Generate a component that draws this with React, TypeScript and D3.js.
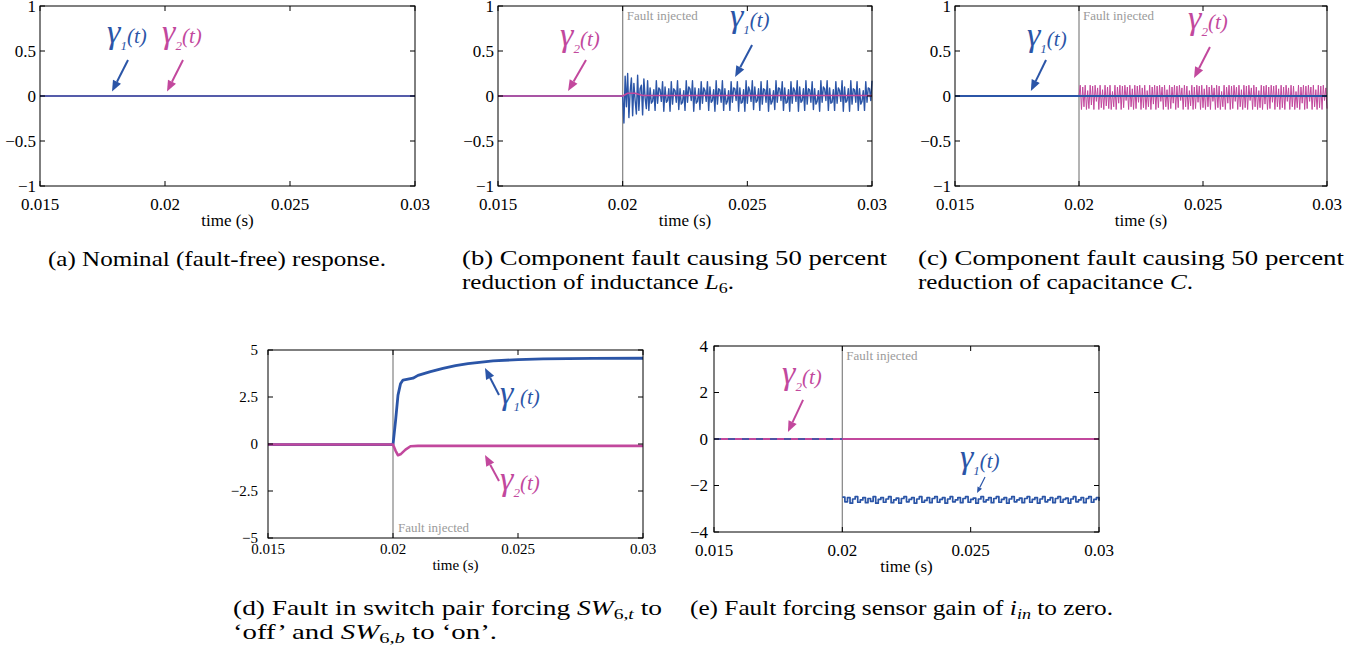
import React from "react";
import * as d3 from "d3";

const BLUE = "#2b55a7";
const MAGENTA = "#c2489d";
const FAULT_GRAY = "#8c8c8c";
const FONT = "Liberation Serif";

// time axis shared by all five plots
const tStart = 0.015;
const tFault = 0.02;
const tEnd = 0.03;
const bandStep = 0.00005; // sample step of the oscillating records (b), (c) after the fault
const rippleStep = 0.0001; // sample step of the record in (e)

const xTicks = [0.015, 0.02, 0.025, 0.03];
const xTickLabels = ["0.015", "0.02", "0.025", "0.03"];

const unitTicks = [-1, -0.5, 0, 0.5, 1];
const unitTickLabels = ["−1", "−0.5", "0", "0.5", "1"];
const dTicks = [-5, -2.5, 0, 2.5, 5];
const dTickLabels = ["−5", "−2.5", "0", "2.5", "5"];
const eTicks = [-4, -2, 0, 2, 4];
const eTickLabels = ["−4", "−2", "0", "2", "4"];

// (a) nominal
const aTimes = [tStart, tEnd];
const aGamma1 = [0, 0];
const aGamma2 = [0, 0];

// (b) inductance fault
const preTimes = [tStart, tFault];
const preZero = [0, 0];
const bGamma1Band = [
  0, -0.30, 0.22, -0.12, 0.25, -0.24, 0.05, 0.20, -0.22, 0.14,
  -0.05, -0.20, 0.23, -0.16, 0.08, 0.12, -0.21, 0.19, -0.02, -0.14,
  0.17, -0.16, 0.09, -0.08, -0.06, 0.07, -0.16, 0.17, -0.08, 0.09, 0.07, -0.06,
  0.16, -0.17, 0.10, -0.07, -0.05, 0.08, -0.17, 0.16, -0.09, 0.08, 0.06, -0.07,
  0.17, -0.15, 0.08, -0.09, -0.07, 0.06, -0.16, 0.17, -0.07, 0.10, 0.08, -0.05,
  0.17, -0.17, 0.09, -0.08, -0.06, 0.08, -0.15, 0.16, -0.08, 0.09, 0.06, -0.06,
  0.16, -0.16, 0.10, -0.07, -0.05, 0.07, -0.17, 0.17, -0.09, 0.08, 0.07, -0.07,
  0.17, -0.16, 0.08, -0.09, -0.06, 0.06, -0.16, 0.16, -0.07, 0.09, 0.08, -0.05,
  0.16, -0.17, 0.09, -0.08, -0.07, 0.07, -0.17, 0.17, -0.08, 0.10, 0.06, -0.06,
  0.17, -0.15, 0.10, -0.07, -0.05, 0.08, -0.16, 0.16, -0.09, 0.08, 0.07, -0.07,
  0.17, -0.17, 0.08, -0.09, -0.06, 0.06, -0.15, 0.17, -0.07, 0.09, 0.08, -0.05,
  0.16, -0.16, 0.09, -0.08, -0.07, 0.07, -0.17, 0.16, -0.08, 0.09, 0.06, -0.06,
  0.17, -0.17, 0.10, -0.07, -0.05, 0.08, -0.16, 0.17, -0.09, 0.08, 0.07, -0.07,
  0.16, -0.15, 0.08, -0.09, -0.06, 0.06, -0.17, 0.17, -0.07, 0.10, 0.08, -0.05,
  0.17, -0.16, 0.09, -0.08, -0.07, 0.07, -0.16, 0.16, -0.08, 0.09, 0.06, -0.06,
  0.17, -0.17, 0.10, -0.07, -0.05, 0.08, -0.17, 0.17, -0.09, 0.08, 0.07, -0.07,
  0.16, -0.16, 0.08, -0.09, -0.06, 0.06, -0.16, 0.16, -0.07, 0.09, 0.08, -0.05, 0.17,
];
const bGamma2Times = [tStart, 0.02, 0.0202, 0.0205, 0.0208, tEnd];
const bGamma2 = [0, 0, 0.03, 0.03, 0.005, 0.005];

// (c) capacitance fault
const cGamma1 = [0, 0];
const cGamma2Band = [
  0, 0.12, -0.15, 0.10, -0.12, 0.12, -0.15, 0.06, -0.14, 0.12,
  -0.10, 0.11, -0.15, 0.12, -0.06, 0.09, -0.15, 0.12, -0.13, 0.07,
  -0.15, 0.12, -0.11, 0.10, -0.14, 0.12, -0.15, 0.05, -0.12, 0.12,
  -0.15, 0.10, -0.08, 0.12, -0.15, 0.11, -0.13, 0.12, -0.05, 0.10,
  -0.15, 0.12, -0.12, 0.08, -0.15, 0.12, -0.14, 0.11, -0.07, 0.12,
  -0.15, 0.09, -0.13, 0.12, -0.15, 0.06, -0.12, 0.12, -0.15, 0.10,
  -0.09, 0.12, -0.15, 0.11, -0.13, 0.12, -0.06, 0.10, -0.15, 0.12,
  -0.12, 0.07, -0.15, 0.12, -0.14, 0.10, -0.08, 0.12, -0.15, 0.11,
  -0.13, 0.12, -0.05, 0.09, -0.15, 0.12, -0.12, 0.11, -0.15, 0.06,
  -0.11, 0.12, -0.15, 0.10, -0.14, 0.12, -0.07, 0.11, -0.15, 0.12,
  -0.13, 0.08, -0.15, 0.12, -0.12, 0.10, -0.15, 0.12, -0.06, 0.09,
  -0.15, 0.12, -0.13, 0.11, -0.15, 0.05, -0.12, 0.12, -0.15, 0.10,
  -0.08, 0.12, -0.15, 0.11, -0.14, 0.12, -0.06, 0.10, -0.15, 0.12,
  -0.12, 0.07, -0.15, 0.12, -0.13, 0.11, -0.15, 0.12, -0.05, 0.09,
  -0.15, 0.12, -0.12, 0.10, -0.15, 0.06, -0.13, 0.12, -0.15, 0.11,
  -0.09, 0.12, -0.15, 0.10, -0.14, 0.12, -0.07, 0.11, -0.15, 0.12,
  -0.12, 0.08, -0.15, 0.12, -0.13, 0.10, -0.15, 0.12, -0.06, 0.09,
  -0.15, 0.12, -0.12, 0.11, -0.15, 0.05, -0.13, 0.12, -0.15, 0.10,
  -0.08, 0.12, -0.15, 0.11, -0.14, 0.12, -0.06, 0.10, -0.15, 0.12,
  -0.12, 0.07, -0.15, 0.12, -0.13, 0.11, -0.15, 0.12, -0.05, 0.09, -0.14,
];

// (d) switch pair fault
const dGamma1Times = [0.015, 0.02, 0.0201, 0.0202, 0.0203, 0.0204, 0.0206, 0.0208, 0.021, 0.0215, 0.022, 0.0225, 0.023, 0.024, 0.025, 0.026, 0.028, 0.03];
const dGamma1 = [-0.03, -0.03, 1.2, 2.6, 3.2, 3.4, 3.45, 3.5, 3.65, 3.85, 4.02, 4.17, 4.28, 4.42, 4.49, 4.53, 4.55, 4.56];
const dGamma2Times = [0.015, 0.02, 0.0201, 0.0202, 0.0203, 0.0205, 0.0207, 0.021, 0.03];
const dGamma2 = [-0.03, -0.03, -0.35, -0.6, -0.55, -0.3, -0.12, -0.1, -0.1];

// (e) sensor gain fault
const eGamma2 = [0, 0];
const eGamma1Band = [
  -2.50, -2.70, -2.52, -2.76, -2.58, -2.48, -2.72, -2.62, -2.52, -2.74,
  -2.56, -2.68, -2.48, -2.76, -2.60, -2.52, -2.72, -2.58, -2.48, -2.74,
  -2.62, -2.54, -2.76, -2.56, -2.48, -2.70, -2.60, -2.52, -2.76, -2.58,
  -2.48, -2.72, -2.64, -2.52, -2.74, -2.56, -2.48, -2.72, -2.60, -2.52,
  -2.76, -2.58, -2.48, -2.70, -2.62, -2.52, -2.74, -2.56, -2.48, -2.72,
  -2.60, -2.54, -2.76, -2.58, -2.48, -2.70, -2.62, -2.52, -2.74, -2.56,
  -2.48, -2.72, -2.60, -2.52, -2.76, -2.58, -2.48, -2.70, -2.62, -2.54,
  -2.74, -2.56, -2.48, -2.72, -2.60, -2.52, -2.76, -2.58, -2.48, -2.70,
  -2.62, -2.52, -2.74, -2.56, -2.48, -2.72, -2.60, -2.54, -2.76, -2.58,
  -2.48, -2.70, -2.62, -2.52, -2.74, -2.56, -2.48, -2.72, -2.60, -2.52, -2.66,
];

type Pt = { t: number; v: number };
const pts = (ts: number[], vs: number[]): Pt[] => ts.map((t, i) => ({ t, v: vs[i] }));
const band = (vs: number[], step: number): Pt[] => vs.map((v, i) => ({ t: tFault + i * step, v }));

type Series = { data: Pt[]; color: string; width: number; dash?: string; step?: boolean };
type Label = { which: 1 | 2; t: number; v: number };
type Arrow = { color: string; from: [number, number]; to: [number, number]; small?: boolean };

type PanelProps = {
  left: number; top: number; right: number; bottom: number;
  yDomain: [number, number];
  yTicks: number[]; yTickLabels: string[];
  series: Series[];
  fault?: "top" | "bottom";
  labels: Label[];
  arrows: Arrow[];
  fs: number; xLabelDy: number; titleDy: number; yGap: number;
};

const GammaLabel = ({ x, y, which }: { x: number; y: number; which: 1 | 2 }) => (
  <text x={x} y={y} fill={which === 1 ? BLUE : MAGENTA} fontFamily={FONT} fontStyle="italic">
    <tspan fontSize={34}>γ</tspan>
    <tspan fontSize={13} dy={7}>{which}</tspan>
    <tspan fontSize={21} dy={-7}>(t)</tspan>
  </text>
);

const ArrowMark = ({ x1, y1, x2, y2, color, small }: any) => {
  const ang = Math.atan2(y2 - y1, x2 - x1);
  const len = small ? 6 : 11;
  const half = small ? 2.5 : 4.5;
  const bx = x2 - len * Math.cos(ang);
  const by = y2 - len * Math.sin(ang);
  const px = -Math.sin(ang) * half;
  const py = Math.cos(ang) * half;
  return (
    <g>
      <line x1={x1} y1={y1} x2={bx} y2={by} stroke={color} strokeWidth={small ? 1.2 : 2} />
      <path d={`M${x2},${y2}L${bx + px},${by + py}L${bx - px},${by - py}Z`} fill={color} />
    </g>
  );
};

const Panel = (p: PanelProps) => {
  const x = d3.scaleLinear().domain([tStart, tEnd]).range([p.left, p.right]);
  const y = d3.scaleLinear().domain(p.yDomain).range([p.bottom, p.top]);
  const tick = 5;
  const fx = x(tFault);
  return (
    <g fontFamily={FONT}>
      {p.fault && (
        <line x1={fx} x2={fx} y1={p.top} y2={p.bottom} stroke={FAULT_GRAY} strokeWidth={1.3} />
      )}
      {p.series.map((s, i) => {
        const line = d3.line<Pt>().x((d) => x(d.t)).y((d) => y(d.v));
        if (s.step) line.curve(d3.curveStepAfter);
        return (
          <path key={i} d={line(s.data) || ""} fill="none" stroke={s.color}
            strokeWidth={s.width} strokeDasharray={s.dash} strokeLinejoin="round" />
        );
      })}
      {p.fault === "top" && (
        <text x={fx + 4} y={p.top + 14} fontSize={13} fill="#9a9a9a">Fault injected</text>
      )}
      {p.fault === "bottom" && (
        <text x={fx + 5} y={p.bottom - 6} fontSize={13} fill="#9a9a9a">Fault injected</text>
      )}
      <rect x={p.left} y={p.top} width={p.right - p.left} height={p.bottom - p.top}
        fill="none" stroke="#000" strokeWidth={1} />
      {xTicks.map((t, i) => (
        <g key={"x" + i}>
          <line x1={x(t)} x2={x(t)} y1={p.bottom} y2={p.bottom - tick} stroke="#000" />
          <line x1={x(t)} x2={x(t)} y1={p.top} y2={p.top + tick} stroke="#000" />
          <text x={x(t)} y={p.bottom + p.xLabelDy} fontSize={p.fs} textAnchor="middle">{xTickLabels[i]}</text>
        </g>
      ))}
      {p.yTicks.map((v, i) => (
        <g key={"y" + i}>
          <line x1={p.left} x2={p.left + tick} y1={y(v)} y2={y(v)} stroke="#000" />
          <line x1={p.right} x2={p.right - tick} y1={y(v)} y2={y(v)} stroke="#000" />
          <text x={p.left - p.yGap} y={y(v) + p.fs * 0.34} fontSize={p.fs} textAnchor="end">{p.yTickLabels[i]}</text>
        </g>
      ))}
      <text x={(p.left + p.right) / 2} y={p.bottom + p.titleDy} fontSize={p.fs} textAnchor="middle">time (s)</text>
      {p.arrows.map((a, i) => (
        <ArrowMark key={"a" + i} x1={x(a.from[0])} y1={y(a.from[1])} x2={x(a.to[0])} y2={y(a.to[1])}
          color={a.color} small={a.small} />
      ))}
      {p.labels.map((l, i) => (
        <GammaLabel key={"l" + i} x={x(l.t)} y={y(l.v)} which={l.which} />
      ))}
    </g>
  );
};

const Cap = ({ x, y, w, children }: any) => (
  <text x={x} y={y} fontFamily={FONT} fontSize={21} textLength={w} lengthAdjust="spacingAndGlyphs">
    {children}
  </text>
);

export default function App() {
  const common = { fs: 17, xLabelDy: 24, titleDy: 40, yGap: 4 };
  return (
    <svg width={1372} height={656} style={{ position: "absolute", left: 0, top: 0, background: "#fff" }}>
      <Panel {...common} left={40} top={6} right={415} bottom={186} yDomain={[-1, 1]}
        yTicks={unitTicks} yTickLabels={unitTickLabels}
        series={[
          { data: pts(aTimes, aGamma2), color: MAGENTA, width: 1.6 },
          { data: pts(aTimes, aGamma1), color: BLUE, width: 1.4 },
        ]}
        labels={[{ which: 1, t: 0.01768, v: 0.589 }, { which: 2, t: 0.01988, v: 0.589 }]}
        arrows={[
          { color: BLUE, from: [0.01852, 0.4], to: [0.01788, 0.05] },
          { color: MAGENTA, from: [0.02072, 0.4], to: [0.02008, 0.05] },
        ]} />
      <Panel {...common} left={498} top={6} right={872} bottom={186} yDomain={[-1, 1]}
        yTicks={unitTicks} yTickLabels={unitTickLabels} fault="top"
        series={[
          { data: [...pts(preTimes, preZero), ...band(bGamma1Band, bandStep)], color: BLUE, width: 1.4 },
          { data: pts(bGamma2Times, bGamma2), color: MAGENTA, width: 1.6 },
        ]}
        labels={[{ which: 2, t: 0.01749, v: 0.556 }, { which: 1, t: 0.0243, v: 0.767 }]}
        arrows={[
          { color: MAGENTA, from: [0.01853, 0.4], to: [0.01781, 0.056] },
          { color: BLUE, from: [0.02519, 0.567], to: [0.02451, 0.211] },
        ]} />
      <Panel {...common} left={955} top={6} right={1327} bottom={186} yDomain={[-1, 1]}
        yTicks={unitTicks} yTickLabels={unitTickLabels} fault="top"
        series={[
          { data: [...pts(preTimes, preZero), ...band(cGamma2Band, bandStep)], color: MAGENTA, width: 1.0 },
          { data: pts(aTimes, cGamma1), color: BLUE, width: 1.8 },
        ]}
        labels={[{ which: 1, t: 0.0179, v: 0.556 }, { which: 2, t: 0.0244, v: 0.744 }]}
        arrows={[
          { color: BLUE, from: [0.01867, 0.4], to: [0.01806, 0.056] },
          { color: MAGENTA, from: [0.02528, 0.544], to: [0.02464, 0.2] },
        ]} />
      <Panel fs={15} xLabelDy={16} titleDy={32} yGap={10}
        left={268} top={350} right={643} bottom={538} yDomain={[-5, 5]}
        yTicks={dTicks} yTickLabels={dTickLabels} fault="bottom"
        series={[
          { data: pts(dGamma1Times, dGamma1), color: BLUE, width: 2.8 },
          { data: pts(dGamma2Times, dGamma2), color: MAGENTA, width: 2.6 },
        ]}
        labels={[{ which: 1, t: 0.02428, v: 2.13 }, { which: 2, t: 0.02428, v: -2.45 }]}
        arrows={[
          { color: BLUE, from: [0.02424, 2.61], to: [0.02368, 4.04] },
          { color: MAGENTA, from: [0.02424, -1.97], to: [0.02368, -0.585] },
        ]} />
      <Panel fs={17} xLabelDy={24} titleDy={40} yGap={6}
        left={714} top={346} right={1099} bottom={532} yDomain={[-4, 4]}
        yTicks={eTicks} yTickLabels={eTickLabels} fault="top"
        series={[
          { data: band(eGamma1Band, rippleStep), color: BLUE, width: 1.7, step: true },
          { data: pts(aTimes, eGamma2), color: MAGENTA, width: 1.8 },
          { data: pts(preTimes, preZero), color: BLUE, width: 1.6, dash: "7 7" },
        ]}
        labels={[{ which: 2, t: 0.01765, v: 2.37 }, { which: 1, t: 0.02458, v: -1.25 }]}
        arrows={[
          { color: MAGENTA, from: [0.01847, 1.68], to: [0.01788, 0.3] },
          { color: BLUE, from: [0.02556, -1.63], to: [0.02525, -2.32], small: true },
        ]} />

      <Cap x={48} y={266} w={338}>(a) Nominal (fault-free) response.</Cap>
      <Cap x={462} y={265} w={425}>(b) Component fault causing 50 percent</Cap>
      <Cap x={462} y={289} w={272}>
        reduction of inductance <tspan fontStyle="italic">L</tspan>
        <tspan fontSize={15} dy={4}>6</tspan><tspan dy={-4}>.</tspan>
      </Cap>
      <Cap x={918} y={265} w={426}>(c) Component fault causing 50 percent</Cap>
      <Cap x={918} y={289} w={275}>
        reduction of capacitance <tspan fontStyle="italic">C</tspan>.
      </Cap>
      <Cap x={233} y={615} w={429}>
        (d) Fault in switch pair forcing <tspan fontStyle="italic">SW</tspan>
        <tspan fontSize={15} dy={4}>6,</tspan><tspan fontSize={15} fontStyle="italic">t</tspan>
        <tspan dy={-4}> to</tspan>
      </Cap>
      <Cap x={233} y={639} w={264}>
        ‘off’ and <tspan fontStyle="italic">SW</tspan>
        <tspan fontSize={15} dy={4}>6,</tspan><tspan fontSize={15} fontStyle="italic">b</tspan>
        <tspan dy={-4}> to ‘on’.</tspan>
      </Cap>
      <Cap x={690} y={615} w={423}>
        (e) Fault forcing sensor gain of <tspan fontStyle="italic">i</tspan>
        <tspan fontSize={15} fontStyle="italic" dy={4}>in</tspan>
        <tspan dy={-4}> to zero.</tspan>
      </Cap>
    </svg>
  );
}
